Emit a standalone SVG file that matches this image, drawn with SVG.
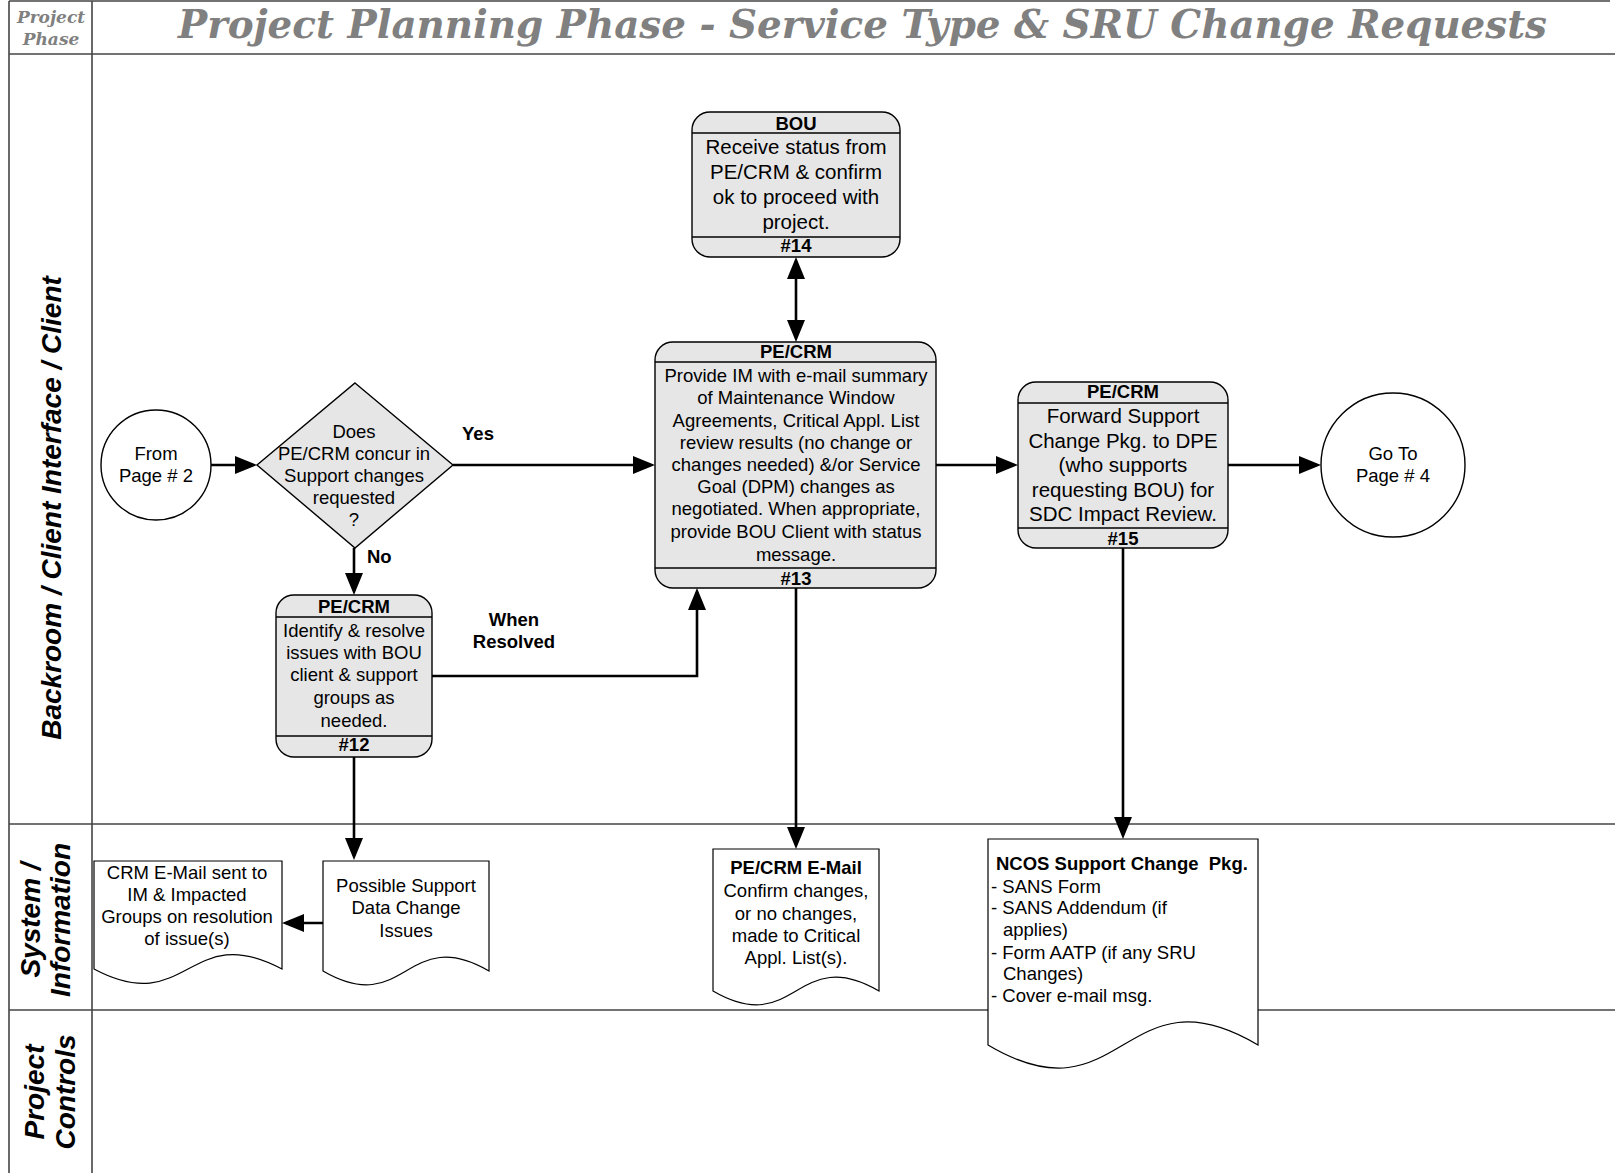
<svg xmlns="http://www.w3.org/2000/svg" width="1615" height="1173" viewBox="0 0 1615 1173">
<defs>
<marker id="arr" markerUnits="userSpaceOnUse" markerWidth="22" markerHeight="18" refX="18" refY="9" orient="auto-start-reverse" viewBox="0 0 22 18">
<path d="M0,0 L22,9 L0,18 Z" fill="#000"/>
</marker>
</defs>
<style>
.lane{stroke:#444;stroke-width:1.6;fill:none}
.box{fill:#e6e6e6;stroke:#000;stroke-width:1.4}
.sep{stroke:#000;stroke-width:1.4}
.doc{fill:#fff;stroke:#000;stroke-width:1.2}
.conn{fill:none;stroke:#000;stroke-width:2.6}
.t{font-family:"Liberation Sans",Arial,sans-serif;font-size:18.5px;fill:#000;text-anchor:middle}
.tb{font-family:"Liberation Sans",Arial,sans-serif;font-size:18.5px;font-weight:bold;fill:#000;text-anchor:middle}
.st{text-anchor:start}
.t2{font-family:"Liberation Sans",Arial,sans-serif;font-size:20.5px;fill:#000;text-anchor:middle}
.tl{font-family:"Liberation Sans",Arial,sans-serif;font-size:18.5px;fill:#000}
.lanelbl{font-family:"Liberation Sans",Arial,sans-serif;font-size:28px;font-weight:bold;font-style:italic;fill:#000;text-anchor:middle}
.title{font-family:"DejaVu Serif","Liberation Serif",serif;font-weight:bold;font-style:italic;fill:#808080}
</style>
<rect width="1615" height="1173" fill="#fff"/>
<g id="frame">
<line class="lane" x1="9" y1="1" x2="1610" y2="1"/>
<line class="lane" x1="9" y1="54" x2="1615" y2="54"/>
<line class="lane" x1="9" y1="824" x2="1615" y2="824"/>
<line class="lane" x1="9" y1="1010" x2="1615" y2="1010"/>
<line class="lane" x1="9" y1="1" x2="9" y2="1173"/>
<line class="lane" x1="92" y1="1" x2="92" y2="1173"/>
<text class="title" x="51" y="23" font-size="17" text-anchor="middle">Project</text>
<text class="title" x="51" y="45" font-size="17" text-anchor="middle">Phase</text>
<text class="title" x="178" y="38" font-size="40" textLength="1369" lengthAdjust="spacingAndGlyphs">Project Planning Phase - Service Type &amp; SRU Change Requests</text>
<text class="lanelbl" transform="translate(61,508) rotate(-90)">Backroom / Client Interface / Client</text>
<text class="lanelbl" transform="translate(40,920) rotate(-90)">System /</text>
<text class="lanelbl" transform="translate(70,920) rotate(-90)">Information</text>
<text class="lanelbl" transform="translate(44,1092) rotate(-90)">Project</text>
<text class="lanelbl" transform="translate(75,1092) rotate(-90)">Controls</text>
</g>
<g id="connectors">
<path class="conn" d="M211,465 H253" marker-end="url(#arr)"/>
<path class="conn" d="M453,465 H651" marker-end="url(#arr)"/>
<path class="conn" d="M354,548 V591" marker-end="url(#arr)"/>
<path class="conn" d="M432,676 H697 V592" marker-end="url(#arr)"/>
<path class="conn" d="M796,261 V338" marker-start="url(#arr)" marker-end="url(#arr)"/>
<path class="conn" d="M936,465 H1014" marker-end="url(#arr)"/>
<path class="conn" d="M1228,465 H1317" marker-end="url(#arr)"/>
<path class="conn" d="M354,757 V856" marker-end="url(#arr)"/>
<path class="conn" d="M796,588 V845" marker-end="url(#arr)"/>
<path class="conn" d="M1123,548 V835" marker-end="url(#arr)"/>
<path class="conn" d="M323,923 H286" marker-end="url(#arr)"/>
<text class="tb" x="478" y="440">Yes</text>
<text class="tb st" x="367" y="563">No</text>
<text class="tb" x="514" y="626">When</text>
<text class="tb" x="514" y="648">Resolved</text>
</g>
<g id="from-page-2">
<circle cx="156" cy="465" r="55" fill="#fff" stroke="#000" stroke-width="1.4"/>
<text class="t" x="156" y="460" font-size="18px">From</text>
<text class="t" x="156" y="482" font-size="18px">Page # 2</text>
</g>
<g id="decision">
<polygon class="box" points="355,383 453,465 355,548 257,465"/>
<text class="t" x="354" y="438">Does</text>
<text class="t" x="354" y="460">PE/CRM concur in</text>
<text class="t" x="354" y="482">Support changes</text>
<text class="t" x="354" y="504">requested</text>
<text class="t" x="354" y="526">?</text>
</g>
<g id="step-14">
<rect class="box" x="692" y="112" width="208" height="145" rx="18"/>
<line class="sep" x1="692" y1="133" x2="900" y2="133"/>
<line class="sep" x1="692" y1="237" x2="900" y2="237"/>
<text class="tb" x="796" y="130">BOU</text>
<text class="t2" x="796" y="154">Receive status from</text>
<text class="t2" x="796" y="179">PE/CRM &amp; confirm</text>
<text class="t2" x="796" y="204">ok to proceed with</text>
<text class="t2" x="796" y="229">project.</text>
<text class="tb" x="796" y="252">#14</text>
</g>
<g id="step-13">
<rect class="box" x="655" y="342" width="281" height="246" rx="18"/>
<line class="sep" x1="655" y1="362" x2="936" y2="362"/>
<line class="sep" x1="655" y1="568" x2="936" y2="568"/>
<text class="tb" x="796" y="358">PE/CRM</text>
<text class="t" x="796" y="382">Provide IM with e-mail summary</text>
<text class="t" x="796" y="404">of Maintenance Window</text>
<text class="t" x="796" y="427">Agreements, Critical Appl. List</text>
<text class="t" x="796" y="449">review results (no change or</text>
<text class="t" x="796" y="471">changes needed) &amp;/or Service</text>
<text class="t" x="796" y="493">Goal (DPM) changes as</text>
<text class="t" x="796" y="515">negotiated. When appropriate,</text>
<text class="t" x="796" y="538">provide BOU Client with status</text>
<text class="t" x="796" y="561">message.</text>
<text class="tb" x="796" y="585">#13</text>
</g>
<g id="step-12">
<rect class="box" x="276" y="595" width="156" height="162" rx="18"/>
<line class="sep" x1="276" y1="617" x2="432" y2="617"/>
<line class="sep" x1="276" y1="736" x2="432" y2="736"/>
<text class="tb" x="354" y="613">PE/CRM</text>
<text class="t" x="354" y="637">Identify &amp; resolve</text>
<text class="t" x="354" y="659">issues with BOU</text>
<text class="t" x="354" y="681">client &amp; support</text>
<text class="t" x="354" y="704">groups as</text>
<text class="t" x="354" y="727">needed.</text>
<text class="tb" x="354" y="751">#12</text>
</g>
<g id="step-15">
<rect class="box" x="1018" y="382" width="210" height="166" rx="18"/>
<line class="sep" x1="1018" y1="403" x2="1228" y2="403"/>
<line class="sep" x1="1018" y1="528" x2="1228" y2="528"/>
<text class="tb" x="1123" y="398">PE/CRM</text>
<text class="t2" x="1123" y="423">Forward Support</text>
<text class="t2" x="1123" y="448">Change Pkg. to DPE</text>
<text class="t2" x="1123" y="472">(who supports</text>
<text class="t2" x="1123" y="497">requesting BOU) for</text>
<text class="t2" x="1123" y="521">SDC Impact Review.</text>
<text class="tb" x="1123" y="545">#15</text>
</g>
<g id="go-to-page-4">
<circle cx="1393" cy="465" r="72" fill="#fff" stroke="#000" stroke-width="1.4"/>
<text class="t" x="1393" y="460" font-size="18px">Go To</text>
<text class="t" x="1393" y="482" font-size="18px">Page # 4</text>
</g>
<g id="doc-crm-email">
<path class="doc" d="M94,861 H282 V969 C188,919 188,1019 94,969 Z"/>
<text class="t" x="187" y="879">CRM E-Mail sent to</text>
<text class="t" x="187" y="901">IM &amp; Impacted</text>
<text class="t" x="187" y="923">Groups on resolution</text>
<text class="t" x="187" y="945">of issue(s)</text>
</g>
<g id="doc-possible-support">
<path class="doc" d="M323,861 H489 V971 C406,923 406,1019 323,971 Z"/>
<text class="t" x="406" y="892">Possible Support</text>
<text class="t" x="406" y="914">Data Change</text>
<text class="t" x="406" y="937">Issues</text>
</g>
<g id="doc-pecrm-email">
<path class="doc" d="M713,849 H879 V991 C796,943 796,1039 713,991 Z"/>
<text class="tb" x="796" y="874">PE/CRM E-Mail</text>
<text class="t" x="796" y="897">Confirm changes,</text>
<text class="t" x="796" y="920">or no changes,</text>
<text class="t" x="796" y="942">made to Critical</text>
<text class="t" x="796" y="964">Appl. List(s).</text>
</g>
<g id="doc-ncos">
<path class="doc" d="M988,839 H1258 V1045 C1123,965 1123,1125 988,1045 Z"/>
<text class="tb st" x="996" y="870" xml:space="preserve">NCOS Support Change  Pkg.</text>
<text class="tl" x="991" y="893">- SANS Form</text>
<text class="tl" x="991" y="914">- SANS Addendum (if</text>
<text class="tl" x="1003" y="936">applies)</text>
<text class="tl" x="991" y="959">- Form AATP (if any SRU</text>
<text class="tl" x="1003" y="980">Changes)</text>
<text class="tl" x="991" y="1002">- Cover e-mail msg.</text>
</g>
</svg>
